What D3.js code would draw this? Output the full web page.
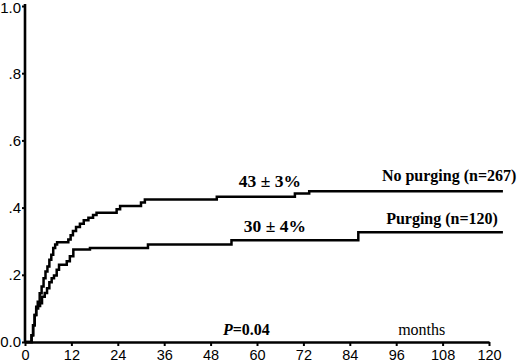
<!DOCTYPE html>
<html>
<head>
<meta charset="utf-8">
<script src="https://cdn.jsdelivr.net/npm/d3@7"></script>
<style>
  body { margin: 0; background: #fff; }
  svg { display: block; }
  .axis text { font-family: "Liberation Sans", Arial, sans-serif; font-size: 15px; fill: #000; }
  .note { font-family: "Liberation Serif", "Times New Roman", serif; font-size: 16px; fill: #000; }
</style>
</head>
<body>
<svg id="chart" width="520" height="363"></svg>
<script>
// cumulative incidence, [month, value] steps
const noPurging = [
  [0, 0], [1.7, 0.02], [2.1, 0.05], [2.5, 0.08], [2.9, 0.105], [3.3, 0.12], [3.8, 0.145],
  [4.3, 0.165], [4.8, 0.19], [5.3, 0.21], [5.8, 0.225], [6.3, 0.245], [6.8, 0.26],
  [7.3, 0.28], [7.8, 0.29], [8.3, 0.297], [11.2, 0.305], [11.8, 0.318], [12.4, 0.33],
  [13.2, 0.342], [14.2, 0.352], [15.2, 0.362], [16.4, 0.37], [17.6, 0.378], [18.5, 0.385],
  [23.7, 0.395], [24.6, 0.405], [30.0, 0.415], [31.0, 0.424], [49.6, 0.432],
  [69.8, 0.442], [73.5, 0.449], [123.6, 0.449]
];
const purging = [
  [0, 0], [1.7, 0.02], [2.1, 0.05], [2.5, 0.08], [2.9, 0.1], [3.4, 0.107], [3.9, 0.115],
  [4.4, 0.135], [5.1, 0.146], [5.7, 0.16], [6.3, 0.178], [6.9, 0.19], [7.5, 0.198],
  [8.2, 0.215], [8.8, 0.23], [10.8, 0.24], [11.6, 0.255], [12.5, 0.275], [16.8, 0.28],
  [31.8, 0.29], [53.4, 0.303], [86.2, 0.327], [123.6, 0.327]
];
const xTicks = d3.range(0, 121, 12);
const yTicks = [0, 0.2, 0.4, 0.6, 0.8, 1.0];
const yTickLabels = ["0.0", ".2", ".4", ".6", ".8", "1.0"];
// text notes anchored in data units
const notes = [
  { text: "43 \u00b1 3%", m: 55.3, v: 0.461, bold: true, size: 17.5 },
  { text: "30 \u00b1 4%", m: 56.6, v: 0.327, bold: true, size: 17.5 },
  { text: "No purging (n=267)", m: 92.3, v: 0.479, bold: true, size: 16 },
  { text: "Purging (n=120)", m: 93.4, v: 0.351, bold: true, size: 16 },
  { text: "months", m: 96.5, v: 0.021, bold: false, size: 16 }
];

const svg = d3.select("#chart");
const x = d3.scaleLinear().domain([0, 120]).range([25, 489]);
const y = d3.scaleLinear().domain([0, 1]).range([342, 6]);

const xAxis = svg.append("g")
  .attr("class", "axis")
  .attr("transform", `translate(0,${y(0)})`)
  .call(d3.axisBottom(x).tickValues(xTicks).tickSize(4).tickPadding(4).tickSizeOuter(0));
xAxis.selectAll("text").style("font-size", "14.5px");

const yAxis = svg.append("g")
  .attr("class", "axis")
  .attr("transform", `translate(${x(0)},0)`)
  .call(d3.axisLeft(y).tickValues(yTicks).tickFormat((d, i) => yTickLabels[i])
    .tickSize(3).tickPadding(1).tickSizeOuter(0));
yAxis.selectAll(".tick text").filter(d => d === 1).attr("dy", "0.45em");

svg.selectAll(".axis .domain").attr("stroke", "#000").attr("stroke-width", 2.6);
svg.selectAll(".axis .tick line").attr("stroke", "#000").attr("stroke-width", 2);
yAxis.select(".domain").attr("d", `M0,${y(0)}V${y(1) - 2}`);

const line = d3.line()
  .x(d => x(d[0]))
  .y(d => y(d[1]))
  .curve(d3.curveStepAfter);

[noPurging, purging].forEach(s => {
  svg.append("path")
    .datum(s)
    .attr("d", line)
    .attr("fill", "none")
    .attr("stroke", "#000")
    .attr("stroke-width", 2.5);
});

svg.selectAll("text.note")
  .data(notes)
  .join("text")
  .attr("class", "note")
  .attr("x", d => x(d.m))
  .attr("y", d => y(d.v))
  .attr("font-weight", d => d.bold ? "bold" : "normal")
  .style("font-size", d => d.size + "px")
  .attr("xml:space", "preserve")
  .text(d => d.text);

// P value label
const p = svg.append("text")
  .attr("class", "note")
  .attr("x", x(51.2))
  .attr("y", y(0.021))
  .attr("font-weight", "bold");
p.append("tspan").attr("font-style", "italic").text("P");
p.append("tspan").text("=0.04");
</script>
</body>
</html>
